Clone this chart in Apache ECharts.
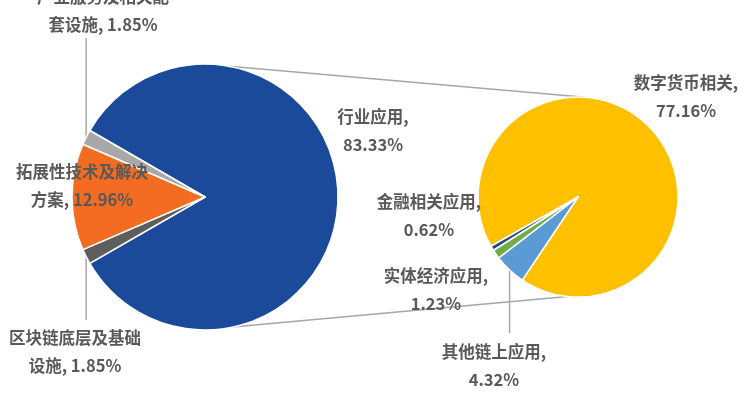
<!DOCTYPE html>
<html>
<head>
<meta charset="utf-8">
<script src="https://cdn.jsdelivr.net/npm/echarts@6/dist/echarts.min.js"></script>
<style>
  html, body { margin: 0; padding: 0; background: #fff; }
  #chart { width: 747px; height: 394px; }
</style>
</head>
<body>
<div id="chart"></div>
<script>
// Main pie: share of each sector
const mainNames = ['行业应用', '区块链底层及基础设施', '拓展性技术及解决方案', '产业服务及相关配套设施'];
const mainValues = [83.33, 1.85, 12.96, 1.85];
// Secondary pie: breakdown of 行业应用
const subNames = ['数字货币相关', '其他链上应用', '实体经济应用', '金融相关应用'];
const subValues = [77.16, 4.32, 1.23, 0.62];

const mainColors = ['#1B4A9B', '#5E5E5E', '#F36C21', '#A8A8A8'];
const subColors = ['#FFC000', '#5B9BD5', '#70AD47', '#264478'];

// Pie geometry
const mainPie = { cx: 205, cy: 197, r: 133, start: 150 };
const subPie = { cx: 578, cy: 197, r: 100, start: 209.5 };

// Label block centres and (optional) vertical leader end
const labelLayoutMain = [
  { x: 373, y: 131 },
  { x: 75, y: 352, leadY: 320 },
  { x: 82, y: 186 },
  { x: 103, y: 11, leadY: 38 }
];
const labelLayoutSub = [
  { x: 686, y: 97 },
  { x: 494, y: 366, leadY: 333 },
  { x: 436, y: 290 },
  { x: 429, y: 216 }
];

const textStyle = {
  fontFamily: "'Noto Sans CJK SC', 'Noto Sans', sans-serif",
  fontWeight: 'bold',
  fontSize: 16.5,
  lineHeight: 28,
  color: '#595959'
};

function fmt(p) {
  const v = Number(p.value).toFixed(2) + '%';
  const n = p.name;
  if (n.length > 6) return n.slice(0, 8) + '\n' + n.slice(8) + ', ' + v;
  return n + ',\n' + v;
}

function buildData(names, values, colors, layout) {
  return names.map((n, i) => ({
    name: n,
    value: values[i],
    itemStyle: { color: colors[i] },
    labelLine: { show: layout[i].leadY !== undefined }
  }));
}

function layoutFn(layout) {
  return function (params) {
    const l = layout[params.dataIndex];
    const out = { x: l.x, y: l.y, align: 'center', verticalAlign: 'middle' };
    if (l.leadY !== undefined && params.labelLinePoints) {
      const p0 = params.labelLinePoints[0];
      out.labelLinePoints = [[p0[0], p0[1]], [p0[0], l.leadY], [p0[0], l.leadY]];
    }
    return out;
  };
}

function polar(pie, deg) {
  const a = deg * Math.PI / 180;
  return [pie.cx + pie.r * Math.cos(a), pie.cy - pie.r * Math.sin(a)];
}

// Connector lines between the two pies (angles in degrees, counter-clockwise from +x)
const connectors = [[79.5, 86], [282, 264]];

const chart = echarts.init(document.getElementById('chart'), null, { renderer: 'canvas' });

const pieBase = {
  type: 'pie',
  animation: false,
  avoidLabelOverlap: false,
  clockwise: true,
  itemStyle: { borderColor: '#fff', borderWidth: 1.5 },
  emphasis: { disabled: true },
  label: Object.assign({ show: true, position: 'outside', formatter: fmt }, textStyle),
  labelLine: { show: false, length: 10, length2: 10, smooth: false, lineStyle: { color: '#A6A6A6', width: 1.5 } }
};

chart.setOption({
  animation: false,
  graphic: connectors.map(c => {
    const p1 = polar(mainPie, c[0]);
    const p2 = polar(subPie, c[1]);
    return {
      type: 'line',
      z: 0,
      shape: { x1: p1[0], y1: p1[1], x2: p2[0], y2: p2[1] },
      style: { stroke: '#A6A6A6', lineWidth: 1.5 }
    };
  }),
  series: [
    Object.assign({}, pieBase, {
      center: [mainPie.cx, mainPie.cy],
      radius: [0, mainPie.r],
      startAngle: mainPie.start,
      data: buildData(mainNames, mainValues, mainColors, labelLayoutMain),
      labelLayout: layoutFn(labelLayoutMain)
    }),
    Object.assign({}, pieBase, {
      center: [subPie.cx, subPie.cy],
      radius: [0, subPie.r],
      startAngle: subPie.start,
      data: buildData(subNames, subValues, subColors, labelLayoutSub),
      labelLayout: layoutFn(labelLayoutSub)
    })
  ]
});
</script>
</body>
</html>
